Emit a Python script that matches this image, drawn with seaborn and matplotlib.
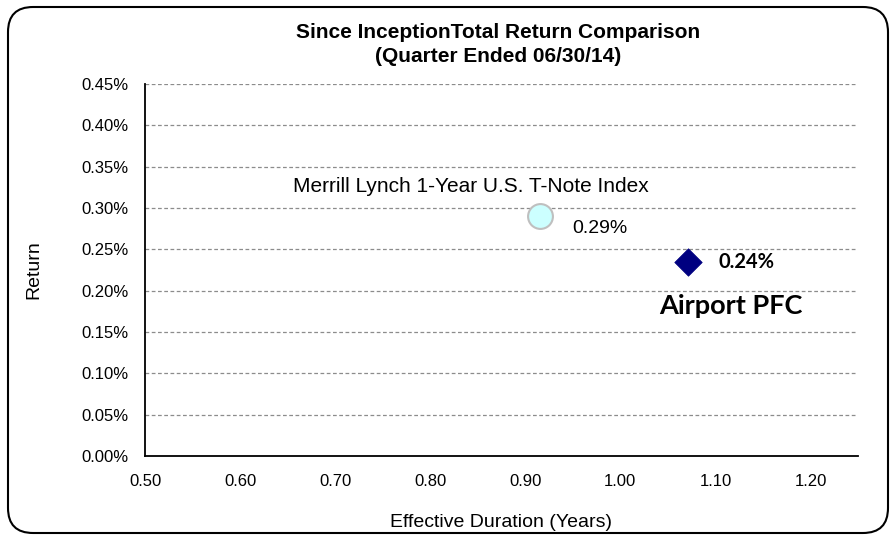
import matplotlib
matplotlib.use("Agg")
import matplotlib.pyplot as plt
import seaborn as sns
import pandas as pd
from matplotlib.patches import FancyBboxPatch
from matplotlib.ticker import FuncFormatter

names = ["Merrill Lynch 1-Year U.S. T-Note Index", "Airport PFC"]
duration = [0.916, 1.071]
returns = [0.29, 0.235]
value_labels = ["0.29%", "0.24%"]
x_ticks = [0.50, 0.60, 0.70, 0.80, 0.90, 1.00, 1.10, 1.20]
y_ticks = [0.00, 0.05, 0.10, 0.15, 0.20, 0.25, 0.30, 0.35, 0.40, 0.45]

df = pd.DataFrame({"name": names, "duration": duration, "ret": returns})

sns.set_style("white")
plt.rcParams['font.family'] = ['Liberation Sans', 'DejaVu Sans']
for k in ["text.color", "axes.labelcolor", "xtick.color", "ytick.color"]:
    plt.rcParams[k] = "black"

fig = plt.figure(figsize=(8.95, 5.38), dpi=100)
ax = fig.add_axes([145/895, 1-456/538, (858-145)/895, (456-84)/538])

# rounded chart border
border = FancyBboxPatch((8/895, 5/538), 880/895, 526/538,
                        boxstyle="round,pad=0,rounding_size=0.028",
                        transform=fig.transFigure, fill=False,
                        edgecolor="black", linewidth=1.5, mutation_aspect=895/538)
fig.patches.append(border)

for yv in y_ticks[1:]:
    ax.axhline(yv, color="#8c8c8c", linestyle=(0, (3, 2)), linewidth=0.9, zorder=0)

sns.scatterplot(data=df.iloc[[0]], x="duration", y="ret", ax=ax, marker="o", s=320,
                color="#ccffff", edgecolor="#bfbfbf", linewidth=1.5, zorder=3, legend=False)
sns.scatterplot(data=df.iloc[[1]], x="duration", y="ret", ax=ax, marker="D", s=196,
                color="#000080", edgecolor="#000080", linewidth=0.5, zorder=3, legend=False)

ax.set_xlim(0.5, 1.25)
ax.set_ylim(0, 0.45)
ax.set_xticks(x_ticks)
ax.set_yticks(y_ticks)
ax.xaxis.set_major_formatter(FuncFormatter(lambda v, p: f"{v:.2f}"))
ax.yaxis.set_major_formatter(FuncFormatter(lambda v, p: f"{v:.2f}%"))
ax.tick_params(axis="both", labelsize=12, length=4, width=1, color="black", direction="out")
ax.tick_params(axis="x", pad=9)
ax.tick_params(axis="y", pad=8)
for s in ["top", "right"]:
    ax.spines[s].set_visible(False)
for s in ["left", "bottom"]:
    ax.spines[s].set_color("black")
    ax.spines[s].set_linewidth(1.3)

ax.set_xlabel("Effective Duration (Years)", fontsize=14, labelpad=18)
ax.set_ylabel("Return", fontsize=14, labelpad=28)

fig.text(498/895, 1-33/538, "Since InceptionTotal Return Comparison", ha="center", va="center",
         fontsize=15, fontweight="bold")
fig.text(498/895, 1-56/538, "(Quarter Ended 06/30/14)", ha="center", va="center",
         fontsize=15, fontweight="bold")

# annotations
ax.annotate(names[0], (duration[0], returns[0]), xytext=(-50, 21.5), textcoords="offset points",
            ha="center", va="center", fontsize=15)
ax.annotate(value_labels[0], (duration[0], returns[0]), xytext=(43, -9), textcoords="offset points",
            ha="center", va="center", fontsize=14)
ax.annotate(value_labels[1], (duration[1], returns[1]), xytext=(42, 0), textcoords="offset points",
            ha="center", va="center", fontsize=14.5, fontweight="bold", family=["Lato", "DejaVu Sans"])
ax.annotate(names[1], (duration[1], returns[1]), xytext=(31, -32), textcoords="offset points",
            ha="center", va="center", fontsize=19.5, fontweight="bold", family=["Lato", "DejaVu Sans"])

fig.savefig("out.png", dpi=100)
